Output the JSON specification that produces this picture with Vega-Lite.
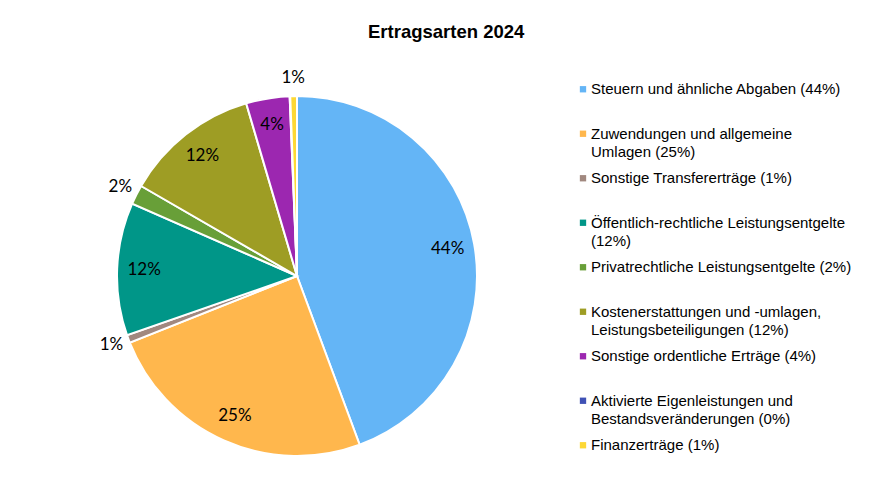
{
  "$schema": "https://vega.github.io/schema/vega-lite/v6.json",
  "autosize": {"type": "pad"},
  "padding": {"left": 88, "top": 22, "right": 0, "bottom": 0},
  "background": "white",
  "title": {
    "text": "Ertragsarten 2024",
    "font": "Liberation Sans",
    "fontSize": 18.5,
    "fontWeight": "bold",
    "color": "#000000",
    "anchor": "start",
    "frame": "group",
    "dx": 280,
    "offset": 26
  },
  "config": {"view": {"stroke": null}},
  "data": {
    "values": [
      {"nr": 1, "art": "Steuern und ähnliche Abgaben", "anteil": 0.443, "legende": "Steuern und ähnliche Abgaben (44%)"},
      {"nr": 2, "art": "Zuwendungen und allgemeine Umlagen", "anteil": 0.246, "legende": "Zuwendungen und allgemeine\nUmlagen (25%)"},
      {"nr": 3, "art": "Sonstige Transfererträge", "anteil": 0.007, "legende": "Sonstige Transfererträge (1%)"},
      {"nr": 4, "art": "Öffentlich-rechtliche Leistungsentgelte", "anteil": 0.119, "legende": "Öffentlich-rechtliche Leistungsentgelte\n(12%)"},
      {"nr": 5, "art": "Privatrechtliche Leistungsentgelte", "anteil": 0.0175, "legende": "Privatrechtliche Leistungsentgelte (2%)"},
      {"nr": 6, "art": "Kostenerstattungen und -umlagen, Leistungsbeteiligungen", "anteil": 0.121, "legende": "Kostenerstattungen und -umlagen,\nLeistungsbeteiligungen (12%)"},
      {"nr": 7, "art": "Sonstige ordentliche Erträge", "anteil": 0.039, "legende": "Sonstige ordentliche Erträge (4%)"},
      {"nr": 8, "art": "Aktivierte Eigenleistungen und Bestandsveränderungen", "anteil": 0.0005, "legende": "Aktivierte Eigenleistungen und\nBestandsveränderungen (0%)"},
      {"nr": 9, "art": "Finanzerträge", "anteil": 0.006, "legende": "Finanzerträge (1%)"}
    ]
  },
  "spacing": 67,
  "hconcat": [
    {
      "width": 418,
      "height": 418,
      "layer": [
        {
          "mark": {"type": "arc", "outerRadius": 180, "stroke": "white", "strokeWidth": 2},
          "encoding": {
            "theta": {"field": "anteil", "type": "quantitative", "stack": true},
            "order": {"field": "nr", "type": "quantitative"},
            "color": {
              "field": "art", "type": "nominal", "legend": null,
              "scale": {
                "domain": ["Steuern und ähnliche Abgaben", "Zuwendungen und allgemeine Umlagen", "Sonstige Transfererträge", "Öffentlich-rechtliche Leistungsentgelte", "Privatrechtliche Leistungsentgelte", "Kostenerstattungen und -umlagen, Leistungsbeteiligungen", "Sonstige ordentliche Erträge", "Aktivierte Eigenleistungen und Bestandsveränderungen", "Finanzerträge"],
                "range": ["#64B5F6", "#FFB74D", "#A1887F", "#009688", "#689F38", "#9E9D24", "#9C27B0", "#3F51B5", "#FDD835"]
              }
            }
          }
        },
        {
          "mark": {"type": "text", "radius": 153, "font": "Lato", "fontSize": 17, "color": "#000000"},
          "encoding": {
            "theta": {"field": "anteil", "type": "quantitative", "stack": true},
            "order": {"field": "nr", "type": "quantitative"},
            "text": {"condition": {"test": "datum.anteil >= 0.03", "field": "anteil", "type": "quantitative", "format": ".0%"}, "value": ""}
          }
        },
        {
          "mark": {"type": "text", "radius": 198, "font": "Lato", "fontSize": 17, "color": "#000000"},
          "encoding": {
            "theta": {"field": "anteil", "type": "quantitative", "stack": true},
            "order": {"field": "nr", "type": "quantitative"},
            "text": {"condition": {"test": "datum.anteil < 0.03 && datum.anteil >= 0.005", "field": "anteil", "type": "quantitative", "format": ".0%"}, "value": ""}
          }
        }
      ]
    },
    {
      "width": 20,
      "height": 400.5,
      "layer": [
        {
          "mark": {"type": "square", "size": 40, "filled": true, "opacity": 1},
          "encoding": {
            "y": {"field": "art", "type": "nominal", "sort": null, "axis": null},
            "color": {"field": "art", "type": "nominal", "legend": null}
          }
        },
        {
          "mark": {"type": "text", "align": "left", "baseline": "middle", "dx": 8, "lineBreak": "\n", "lineHeight": 18.5, "font": "Liberation Sans", "fontSize": 15, "color": "#000000"},
          "encoding": {
            "y": {"field": "art", "type": "nominal", "sort": null, "axis": null},
            "text": {"field": "legende", "type": "nominal"}
          }
        }
      ]
    }
  ]
}
